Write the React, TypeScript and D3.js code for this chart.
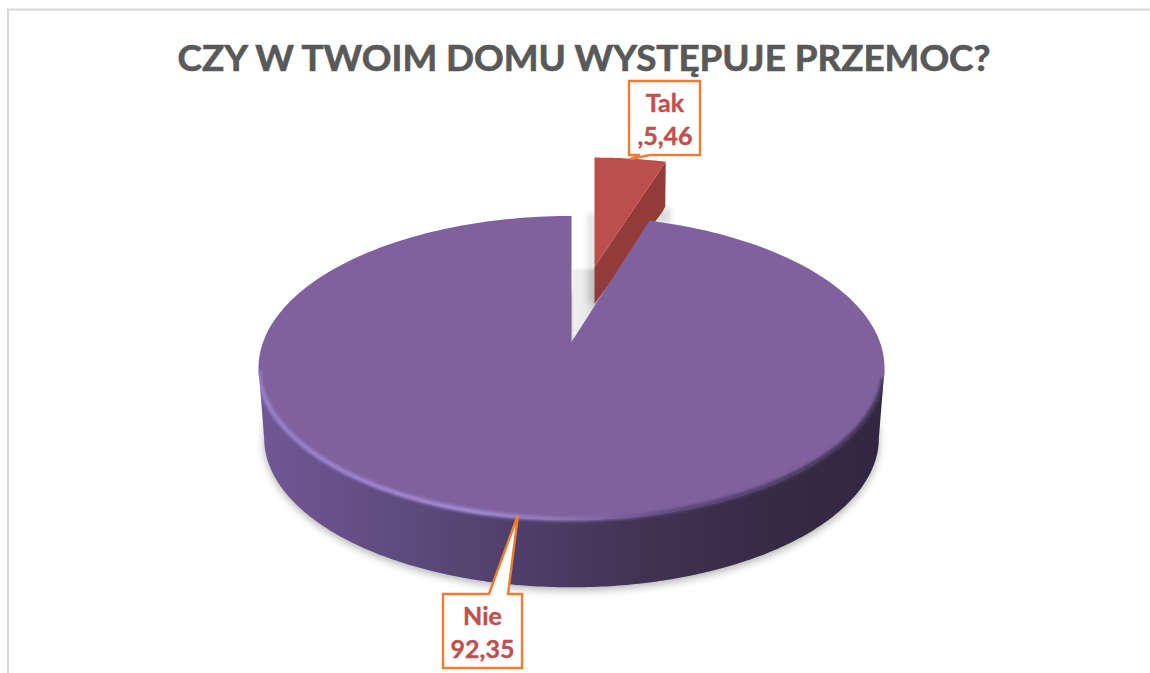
import React from 'react';
import * as d3 from 'd3';

const titleText = 'CZY W TWOIM DOMU WYSTĘPUJE PRZEMOC?';
const categories = ['Tak', 'Nie'];
const seriesValues = [5.46, 92.35];
const labelLines = [['Tak', ',5,46'], ['Nie', '92,35']];

const W = 1150, H = 673;
const cx = 571.5, apexY = 342;
const k = -0.171, A = 147.6, B = 308.4;
const viewCompression = 0.85; // the 3D view foreshortens the far sector
const depth = 70, lowerScale = 0.982;

type Pt = [number, number];
const project = (a: number): Pt => {
  const u = Math.sin(a), v = -Math.cos(a), w = 1 + k * v;
  return [cx + (B * u) / w, apexY + (A * v) / w];
};
const projectLower = (a: number): Pt => {
  const [x, y] = project(a);
  return [cx + (x - cx) * lowerScale, 368 + (y - 368) * lowerScale + depth];
};
const line = d3.line<Pt>().curve(d3.curveLinear);

const arcs = d3.pie<number>().sort(null)(seriesValues);
const takEnd = (arcs[0].endAngle - arcs[0].startAngle) * viewCompression;

const sweep = (a0: number, a1: number, n = 240) =>
  d3.range(n + 1).map((i) => a0 + ((a1 - a0) * i) / n);

const apex: Pt = [cx, apexY];
const topFace = line([apex, ...sweep(takEnd, 2 * Math.PI).map(project)]) + 'Z';

const aR = Math.acos(k), aL = 2 * Math.PI - aR;
const frontTop = sweep(aR, aL).map(project);
const frontLow = sweep(aR, aL).map(projectLower);
const wall = line([...frontTop, ...[...frontLow].reverse()]) + 'Z';
const shadowShape = line(sweep(0, 2 * Math.PI).map(projectLower)) + 'Z';
const rim = line(frontTop.slice(6, -2)) as string;

// exploded sector
const exScaleX = 0.915, exScaleY = 0.868;
const exApex: Pt = [594.5, 267];
const ex = (p: Pt): Pt => [exApex[0] + (p[0] - cx) * exScaleX, exApex[1] + (p[1] - apexY) * exScaleY];
const exArc = sweep(0, takEnd, 20).map(project).map(ex);
const exTop = line([exApex, ...exArc]) + 'Z';
const exEnd = exArc[exArc.length - 1];
const cutDepth = 37, endDepth = 51;
const exCut = line([
  exApex,
  exEnd,
  [exEnd[0] - 0.5, exEnd[1] + endDepth - 6],
  [exEnd[0] - 4, exEnd[1] + endDepth],
  [exApex[0], exApex[1] + cutDepth],
]) + 'Z';

const boxes = [
  { x: 629, y: 81, w: 71, h: 74, ptr: [[640, 155], [630, 159], [650, 155]] as Pt[], l1: 111.5, l2: 144.5 },
  { x: 443, y: 594, w: 79, h: 74, ptr: [[489, 594], [518, 515], [508, 594]] as Pt[], l1: 624.5, l2: 657.5 },
];

const calloutPath = (b: typeof boxes[0], i: number) => {
  const [p0, tip, p1] = b.ptr;
  const x1 = b.x + b.w, y1 = b.y + b.h;
  if (i === 0)
    return `M${b.x},${b.y}H${x1}V${y1}H${p1[0]}L${tip[0]},${tip[1]}L${p0[0]},${y1}H${b.x}Z`;
  return `M${b.x},${b.y}H${p0[0]}L${tip[0]},${tip[1]}L${p1[0]},${b.y}H${x1}V${y1}H${b.x}Z`;
};

export default function App() {
  return (
    <svg
      width={W}
      height={H}
      viewBox={`0 0 ${W} ${H}`}
      style={{ position: 'absolute', left: 0, top: 0, background: '#fff', display: 'block' }}
    >
      <defs>
        <linearGradient id="wallGrad" x1="258" x2="884" y1="0" y2="0" gradientUnits="userSpaceOnUse">
          <stop offset="0" stopColor="#705896" />
          <stop offset="0.2" stopColor="#614c80" />
          <stop offset="0.42" stopColor="#4f3e69" />
          <stop offset="0.62" stopColor="#423252" />
          <stop offset="0.82" stopColor="#372a45" />
          <stop offset="1" stopColor="#322640" />
        </linearGradient>
        <linearGradient id="rimGrad" x1="258" x2="884" y1="0" y2="0" gradientUnits="userSpaceOnUse">
          <stop offset="0" stopColor="#9a80cc" />
          <stop offset="0.35" stopColor="#a48cd6" />
          <stop offset="0.5" stopColor="#8c74b4" />
          <stop offset="0.68" stopColor="#5a4578" />
          <stop offset="1" stopColor="#40304f" />
        </linearGradient>
        <filter id="blur4" x="-10%" y="-20%" width="120%" height="140%">
          <feGaussianBlur stdDeviation="4.5" />
        </filter>
        <filter id="blur3" x="-60%" y="-50%" width="220%" height="200%">
          <feGaussianBlur stdDeviation="3" />
        </filter>
        <filter id="blur1" x="-10%" y="-10%" width="120%" height="120%">
          <feGaussianBlur stdDeviation="1.5" />
        </filter>
        <clipPath id="bodyClip">
          <path d={topFace} />
          <path d={wall} />
        </clipPath>
        <linearGradient id="gapGrad" x1="573" x2="595" y1="0" y2="0" gradientUnits="userSpaceOnUse">
          <stop offset="0" stopColor="#eeeeee" />
          <stop offset="0.65" stopColor="#e8e8e8" />
          <stop offset="1" stopColor="#cfcfcf" />
        </linearGradient>
      </defs>

      {/* chart frame */}
      <path d={`M8,${H}V9.5H${W}`} fill="none" stroke="#d9d9d9" strokeWidth={2} />

      <text
        x={584}
        y={70.5}
        textAnchor="middle"
        fontFamily="Lato, 'Open Sans', sans-serif"
        fontWeight={700}
        fontSize={36.8}
        fill="#595959"
        stroke="#595959"
        strokeWidth={0.7}
      >
        {titleText}
      </text>

      {/* shadows */}
      <path d={shadowShape} fill="#000" opacity={0.3} filter="url(#blur4)" transform="translate(0,3)" />
      <path d={`M${cx},${apexY}L${cx},${apexY - 73}H${exApex[0] + 2}V${apexY - 20}Z`} fill="url(#gapGrad)" filter="url(#blur1)" />
      <path
        d={`M${exApex[0] - 7},213H${exApex[0] + 2}V${exApex[1] + cutDepth}H${exApex[0] - 7}Z`}
        fill="#000"
        opacity={0.11}
        filter="url(#blur3)"
      />
      <path
        d={`M${exEnd[0] - 12},${exEnd[1] + 46}H${exEnd[0] + 5}V${exEnd[1] + 62}H${exEnd[0] - 12}Z`}
        fill="#000"
        opacity={0.14}
        filter="url(#blur3)"
      />

      {/* exploded slice */}
      <path d={exCut} fill="#923b39" />
      <path d={exTop} fill="#bc4f4c" />

      {/* main slice */}
      <path d={wall} fill="url(#wallGrad)" />
      <path d={topFace} fill="#7f619d" />
      <g clipPath="url(#bodyClip)">
        <path d={rim} fill="none" stroke="url(#rimGrad)" strokeWidth={4.5} filter="url(#blur1)" transform="translate(0,-1)" />
      </g>

      {/* callouts */}
      {boxes.map((b, i) => (
        <g key={categories[i]}>
          <path d={calloutPath(b, i)} fill="#fff" stroke="#ed7d31" strokeWidth={2.4} strokeLinejoin="miter" />
          {labelLines[i].map((t, j) => (
            <text
              key={t}
              x={b.x + b.w / 2 + (i === 0 ? 0.5 : 0)}
              y={j === 0 ? b.l1 : b.l2}
              textAnchor="middle"
              fontFamily="Lato, 'Open Sans', sans-serif"
              fontWeight={700}
              fontSize={25}
              fill="#c0504d"
              stroke="#c0504d"
              strokeWidth={0.4}
            >
              {t}
            </text>
          ))}
        </g>
      ))}
    </svg>
  );
}
